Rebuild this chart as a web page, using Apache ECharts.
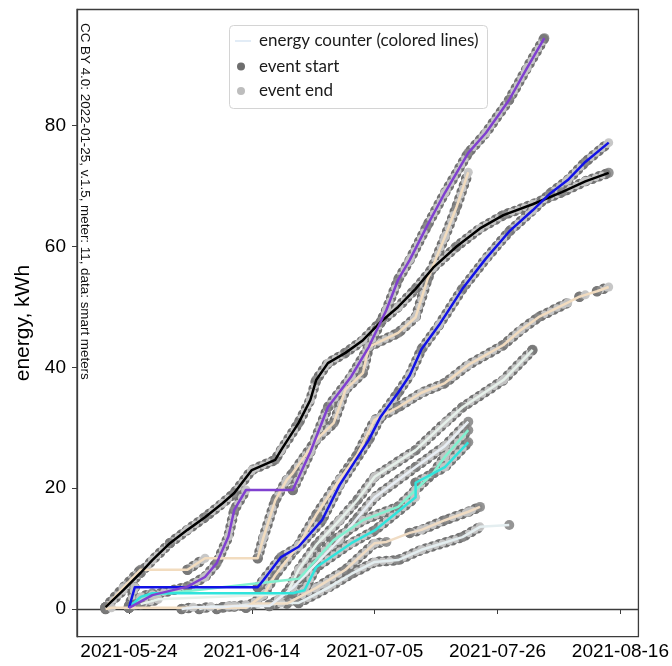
<!DOCTYPE html>
<html>
<head>
<meta charset="utf-8">
<script src="https://cdn.jsdelivr.net/npm/echarts@6/dist/echarts.min.js"></script>
<style>
  html, body { margin: 0; padding: 0; background: #fff; }
  #chart { width: 672px; height: 666px; }
</style>
</head>
<body>
<div id="chart"></div>
<script>
// ---- data -------------------------------------------------------------
const YEAR = 2021;
const xTickLabels = ['2021-05-24', '2021-06-14', '2021-07-05', '2021-07-26', '2021-08-16'];
const yTickValues = [0, 20, 40, 60, 80];

// Energy counter per meter (kWh). Each inner array is one run of charging
// events; inside a run the points alternate event start / event end.
const meterBlack = [
  [['05-20', 0.3], ['05-23', 3.1], ['05-26', 6.0], ['05-28', 8.1], ['05-31', 10.9], ['06-03', 13.1],
   ['06-06', 15.2], ['06-09', 17.5], ['06-11', 19.2], ['06-14', 23.0], ['06-18', 24.7], ['06-19', 26.3],
   ['06-22', 30.8], ['06-24', 34.6], ['06-25', 37.9], ['06-27', 40.7], ['06-30', 42.4], ['07-03', 44.5],
   ['07-06', 47.5], ['07-09', 50.0], ['07-12', 53.0], ['07-15', 56.5], ['07-19', 60.0], ['07-23', 63.0],
   ['07-27', 65.2], ['08-01', 67.0], ['08-06', 69.0], ['08-10', 70.8], ['08-14', 72.2]]
];
const meterPurple = [
  [['05-24', 0.2], ['05-28', 2.3], ['06-03', 3.7], ['06-06', 5.3], ['06-08', 7.6], ['06-10', 12.0],
   ['06-11', 16.4], ['06-13', 19.7]],
  [['06-21', 19.7], ['06-24', 26.0], ['06-27', 33.4], ['07-01', 38.5], ['07-04', 43.4], ['07-07', 49.5],
   ['07-09', 54.5], ['07-11', 57.8], ['07-14', 63.5], ['07-17', 68.9], ['07-21', 75.5], ['07-24', 78.8],
   ['07-28', 84.3], ['07-31', 89.5], ['08-03', 94.5]]
];
const meterBlue = [
  [['05-24', 0.2], ['05-25', 3.6]],
  [['06-15', 3.6], ['06-16', 4.8], ['06-19', 8.6], ['06-22', 10.3], ['06-26', 14.7], ['06-29', 20.5],
   ['07-04', 28.0], ['07-06', 31.8], ['07-09', 35.8], ['07-11', 38.7], ['07-13', 43.0], ['07-16', 47.0],
   ['07-20', 53.0], ['07-24', 58.0], ['07-28', 62.5], ['08-01', 66.0], ['08-04', 68.8], ['08-07', 71.0],
   ['08-10', 74.0], ['08-14', 77.2]]
];
const meterTanA = [
  [['05-20', 0.3], ['05-23', 3.5], ['05-26', 6.5]],
  [['06-03', 6.5], ['06-06', 8.4]],
  [['06-15', 8.4], ['06-16', 11.9], ['06-18', 18.0], ['06-20', 21.4], ['06-21', 22.5], ['06-25', 28.0],
   ['06-28', 30.8], ['06-30', 36.3], ['07-03', 39.1], ['07-04', 43.4], ['07-09', 45.7], ['07-12', 48.3],
   ['07-14', 54.5], ['07-17', 61.6], ['07-19', 66.6], ['07-21', 72.3]]
];
const meterTanB = [
  [['05-20', 0.0], ['05-21', 0.2]],
  [['06-13', 0.2], ['06-16', 2.3], ['06-18', 5.6], ['06-22', 10.6], ['06-25', 15.6], ['06-29', 21.4],
   ['07-02', 25.5], ['07-05', 31.3], ['07-09', 33.4], ['07-13', 35.8], ['07-17', 37.4], ['07-21', 40.4],
   ['07-27', 43.7], ['07-30', 46.2], ['08-02', 48.3], ['08-07', 50.7]],
  [['08-09', 51.7], ['08-10', 52.0]],
  [['08-12', 52.6], ['08-14', 53.3]]
];
const meterWhite1 = [
  [['05-26', 0.8], ['05-29', 1.6]],
  [['06-20', 2.5], ['06-22', 6.5], ['06-25', 10.6], ['06-29', 14.7], ['07-02', 18.0], ['07-05', 21.9],
   ['07-12', 26.3], ['07-17', 30.8], ['07-20', 33.4], ['07-27', 37.9], ['08-01', 42.9]]
];
const meterWhite2 = [
  [['06-02', 0.0], ['06-04', 0.3]],
  [['06-09', 0.3], ['06-11', 0.5]],
  [['06-17', 0.5], ['06-21', 3.5], ['06-25', 7.5], ['06-29', 11.5], ['07-02', 15.0], ['07-05', 18.5],
   ['07-12', 23.5], ['07-17', 27.0], ['07-21', 31.0]]
];
const meterAqua = [
  [['05-24', 0.5], ['05-28', 2.3]],
  [['06-22', 5.0], ['06-23', 6.0], ['06-28', 11.4], ['07-03', 14.7], ['07-09', 16.9], ['07-12', 19.7],
   ['07-15', 22.5], ['07-17', 25.2], ['07-21', 29.6]]
];
const meterTurquoise = [
  [['05-24', 0.3], ['05-26', 2.0], ['05-28', 2.6]],
  [['06-21', 2.6], ['06-23', 3.1], ['06-25', 6.9], ['07-01', 10.9], ['07-05', 13.0], ['07-12', 18.5]],
  [['07-12', 20.9], ['07-17', 23.5], ['07-21', 27.6]]
];
const meterTanC = [
  [['06-08', 0.0], ['06-10', 0.5]],
  [['06-13', 0.5], ['06-15', 0.9]],
  [['06-20', 0.9], ['06-25', 3.5], ['06-30', 6.5], ['07-05', 10.9], ['07-07', 11.1]],
  [['07-11', 12.6], ['07-13', 13.1], ['07-17', 14.7], ['07-21', 16.1], ['07-23', 16.9]]
];
const meterWhite3 = [
  [['06-05', 0.0], ['06-07', 0.4]],
  [['06-11', 0.4], ['06-13', 0.7]],
  [['06-17', 0.7], ['06-19', 1.0]],
  [['06-22', 1.0], ['06-27', 3.5], ['07-01', 5.8], ['07-05', 7.8], ['07-09', 8.1], ['07-13', 9.8],
   ['07-20', 11.9], ['07-23', 13.6]],
  [['07-28', 13.9]]
];

// ---- drawing ------------------------------------------------------------
const meters = [
  { color: '#e4eef0', runs: meterWhite3 },
  { color: '#f0dcc4', runs: meterTanC },
  { color: '#f2dcc0', runs: meterTanB },
  { color: '#e6f0ea', runs: meterWhite1 },
  { color: '#e8eef4', runs: meterWhite2 },
  { color: '#82f0d0', runs: meterAqua },
  { color: '#30e4dc', runs: meterTurquoise },
  { color: '#f2dcbf', runs: meterTanA },
  { color: '#000000', runs: meterBlack },
  { color: '#1212e6', runs: meterBlue },
  { color: '#8040d0', runs: meterPurple }
];

const DAY = 86400000;
function ts(md) {
  const [m, d] = md.split('-').map(Number);
  return Date.UTC(YEAR, m - 1, d);
}
const xTicks = xTickLabels.map(s => Date.parse(s + 'T00:00:00Z'));
const xMin = xTicks[0] - 8.88 * DAY;
const xMax = xTicks[4] + 3.08 * DAY;

const haloSeries = [];
const lineSeries = [];
const starts = [];
const ends = [];

meters.forEach(m => {
  const halo = [];
  const all = [];
  m.runs.forEach((run, r) => {
    if (r > 0) halo.push([ts(run[0][0]), '-']);
    run.forEach((p, i) => {
      const pt = [ts(p[0]), p[1]];
      halo.push(pt);
      all.push(pt);
      (i % 2 === 0 ? starts : ends).push(pt);
    });
  });
  // chain of beads along every run of events: dark outer beads, light inner beads
  haloSeries.push({
    type: 'line', data: halo, symbol: 'none', silent: true, connectNulls: false, z: 1,
    lineStyle: { color: '#727272', width: 10.5, cap: 'round', join: 'round', type: [0, 7] }
  });
  haloSeries.push({
    type: 'line', data: halo, symbol: 'none', silent: true, connectNulls: false, z: 1,
    lineStyle: { color: '#c6c6c6', width: 7.5, cap: 'round', join: 'round', type: [0, 7], dashOffset: 3.5 }
  });
  lineSeries.push({
    name: 'energy counter (colored lines)', type: 'line', data: all, symbol: 'none', z: 4,
    lineStyle: { color: m.color, width: 2.5, join: 'round' }
  });
});

const labelFont = '"Liberation Sans", Arial, Helvetica, sans-serif';
const legendFont = 'Lato, "Open Sans", sans-serif';

function fmtDate(v) {
  const d = new Date(v);
  const p = n => String(n).padStart(2, '0');
  return d.getUTCFullYear() + '-' + p(d.getUTCMonth() + 1) + '-' + p(d.getUTCDate());
}

const chart = echarts.init(document.getElementById('chart'), null, { renderer: 'canvas' });
chart.setOption({
  animation: false,
  backgroundColor: '#ffffff',
  grid: {
    left: 77, right: 33, top: 9.5, bottom: 29.3,
    show: true, borderColor: '#3c3c3c', borderWidth: 1.3, backgroundColor: 'transparent'
  },
  xAxis: {
    type: 'value', min: xMin, max: xMax,
    axisLine: { show: true, lineStyle: { color: '#3c3c3c', width: 1.3 } },
    axisTick: { show: true, length: 5, inside: false, customValues: xTicks, lineStyle: { color: '#3c3c3c' } },
    axisLabel: {
      customValues: xTicks, margin: 6, color: '#000', fontSize: 19, fontFamily: labelFont,
      formatter: v => fmtDate(v), hideOverlap: false, showMinLabel: true, showMaxLabel: true
    },
    splitLine: { show: false }
  },
  yAxis: {
    type: 'value', min: -4.585, max: 99.24,
    name: 'energy, kWh', nameLocation: 'middle', nameGap: 39, nameRotate: 90,
    nameTextStyle: { color: '#000', fontSize: 21, fontFamily: labelFont },
    axisLine: { show: true, lineStyle: { color: '#3c3c3c', width: 1.3 } },
    axisTick: { show: true, length: 5, customValues: yTickValues, lineStyle: { color: '#3c3c3c' } },
    axisLabel: { customValues: yTickValues, margin: 11, color: '#000', fontSize: 19, fontFamily: labelFont },
    splitLine: { show: false }
  },
  series: [
    ...haloSeries,
    {
      name: 'event start', type: 'scatter', data: starts, symbol: 'circle', symbolSize: 10, z: 2,
      itemStyle: { color: '#7a7a7a', opacity: 0.8 }
    },
    {
      name: 'event end', type: 'scatter', data: ends, symbol: 'circle', symbolSize: 9, z: 3,
      itemStyle: { color: '#c4c4c4', opacity: 0.95 }
    },
    ...lineSeries
  ],
  graphic: [
    {
      type: 'text', x: 85, y: 23, rotation: -Math.PI / 2, z: 10,
      style: {
        text: 'CC BY 4.0: 2022-01-25, v.1.5, meter: 11, data: smart meters',
        font: '13.4px ' + labelFont, fill: '#111', textAlign: 'left', textVerticalAlign: 'middle'
      }
    },
    {
      type: 'group', z: 20,
      children: [
        { type: 'rect', shape: { x: 229.5, y: 25.5, width: 258, height: 83, r: 4 },
          style: { fill: 'rgba(255,255,255,0.9)', stroke: '#d4d4d4', lineWidth: 1 } },
        { type: 'line', shape: { x1: 235, y1: 41, x2: 251, y2: 41 },
          style: { stroke: '#e2ecf6', lineWidth: 2 } },
        { type: 'text', x: 259, y: 41,
          style: { text: 'energy counter (colored lines)', font: '17px ' + legendFont, fill: '#1a1a1a',
                   textVerticalAlign: 'middle' } },
        { type: 'circle', shape: { cx: 241, cy: 66.5, r: 4 }, style: { fill: '#6e6e6e' } },
        { type: 'text', x: 259, y: 66.5,
          style: { text: 'event start', font: '17px ' + legendFont, fill: '#1a1a1a', textVerticalAlign: 'middle' } },
        { type: 'circle', shape: { cx: 241, cy: 91, r: 4 }, style: { fill: '#bdbdbd' } },
        { type: 'text', x: 259, y: 91,
          style: { text: 'event end', font: '17px ' + legendFont, fill: '#1a1a1a', textVerticalAlign: 'middle' } }
      ]
    }
  ]
});
</script>
</body>
</html>
